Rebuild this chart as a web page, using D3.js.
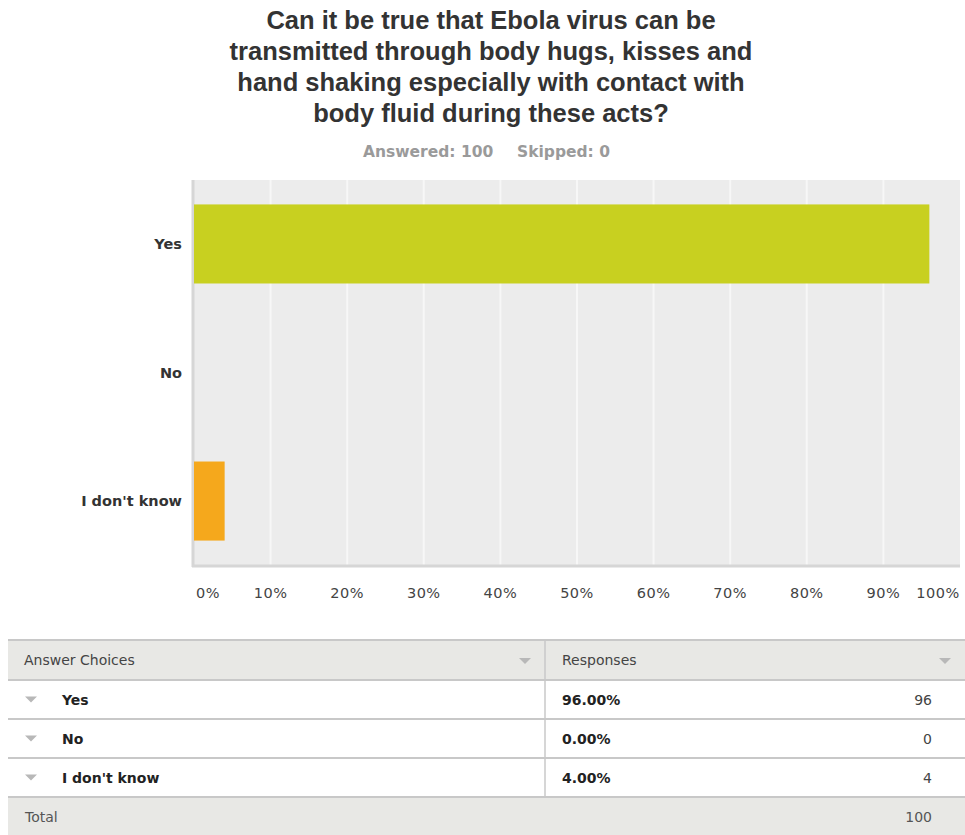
<!DOCTYPE html>
<html><head><meta charset="utf-8">
<script src="https://cdn.jsdelivr.net/npm/d3@7"></script>
<style>body{margin:0;background:#fff;}svg{display:block;font-family:"DejaVu Sans",Verdana,sans-serif;}</style>
</head><body>
<svg id="c" width="965" height="835"></svg>
<script>
const titleLines = ["Can it be true that Ebola virus can be","transmitted through body hugs, kisses and","hand shaking especially with contact with","body fluid during these acts?"];
const subtitleParts = ["Answered: 100","Skipped: 0"];
const categories = ["Yes","No","I don't know"];
const percents = [96, 0, 4];
const counts = [96, 0, 4];
const barColors = ["#c8d020","#c8d020","#f5a81c"];
const tickValues = [0,10,20,30,40,50,60,70,80,90,100];
const tickLabels = ["0%","10%","20%","30%","40%","50%","60%","70%","80%","90%","100%"];
const tableHeaders = ["Answer Choices","Responses"];
const totalLabel = "Total";
const totalCount = 100;

const svg = d3.select("#c");
// title
svg.append("g").selectAll("text").data(titleLines).join("text")
  .attr("x", 491).attr("y", (d,i)=>29+i*31).attr("text-anchor","middle")
  .style("font-family","'Liberation Sans',Arial,sans-serif")
  .attr("font-size", 25.5).attr("font-weight","bold").attr("fill","#333").text(d=>d);
svg.append("g").selectAll("text").data(subtitleParts).join("text")
  .attr("x",(d,i)=>i===0?363:517).attr("y",157)
  .attr("font-size",15.5).attr("font-weight","bold").attr("fill","#9a9a9a").text(d=>d);

// plot
const x = d3.scaleLinear().domain([0,100]).range([194,960]);
const y = d3.scaleBand().domain(categories).range([180,565]).paddingInner(0.385).paddingOuter(0.19);
const pTop=180, pBottom=565;
svg.append("rect").attr("x",192).attr("y",pTop).attr("width",960-192).attr("height",pBottom-pTop).attr("fill","#ececec");
svg.append("g").selectAll("line").data(tickValues.slice(1,-1)).join("line")
  .attr("x1",d=>x(d)).attr("x2",d=>x(d)).attr("y1",pTop).attr("y2",pBottom)
  .attr("stroke","#f7f7f7").attr("stroke-width",2);
svg.append("line").attr("x1",193).attr("x2",193).attr("y1",pTop).attr("y2",pBottom+2).attr("stroke","#d6d6d6").attr("stroke-width",3);
svg.append("line").attr("x1",192).attr("x2",960).attr("y1",pBottom+1).attr("y2",pBottom+1).attr("stroke","#d6d6d6").attr("stroke-width",3);

svg.append("g").selectAll("rect").data(categories).join("rect")
  .attr("x",x(0)).attr("y",d=>y(d)).attr("height",y.bandwidth())
  .attr("width",(d,i)=>x(percents[i])-x(0)).attr("fill",(d,i)=>barColors[i]);

svg.append("g").selectAll("text").data(categories).join("text")
  .attr("x",182).attr("y",d=>y(d)+y.bandwidth()/2+5).attr("text-anchor","end")
  .attr("font-size",14.5).attr("font-weight","bold").attr("fill","#333").text(d=>d);

svg.append("g").selectAll("text").data(tickValues).join("text")
  .attr("x",(d,i)=> i===0 ? x(d)+14 : (i===tickValues.length-1 ? x(d)-22 : x(d)))
  .attr("y",598).attr("text-anchor","middle")
  .attr("font-size",14.5).attr("letter-spacing","0.5").attr("fill","#444").text((d,i)=>tickLabels[i]);

// table
const tx0=8, tx1=965, tdiv=545;
const rowTop=[640,680,719,758,797,836];
const tg = svg.append("g");
tg.append("rect").attr("x",tx0).attr("y",rowTop[0]).attr("width",tx1-tx0).attr("height",rowTop[1]-rowTop[0]).attr("fill","#e8e8e5");
tg.append("rect").attr("x",tx0).attr("y",rowTop[4]).attr("width",tx1-tx0).attr("height",rowTop[5]-rowTop[4]).attr("fill","#e8e8e5");
tg.selectAll("line.h").data(rowTop.slice(0,5)).join("line").attr("class","h")
  .attr("x1",tx0).attr("x2",tx1).attr("y1",d=>d).attr("y2",d=>d).attr("stroke","#c8c8c8").attr("stroke-width",2);
tg.append("line").attr("x1",tdiv).attr("x2",tdiv).attr("y1",rowTop[0]).attr("y2",rowTop[4]).attr("stroke","#c8c8c8").attr("stroke-width",1.5);

function tri(x0,yc){ return `M${x0},${yc-3}L${x0+12},${yc-3}L${x0+6},${yc+3}Z`; }
// header
tg.selectAll("text.hd").data(tableHeaders).join("text").attr("class","hd")
  .attr("x",(d,i)=>i===0?24:562).attr("y",665).attr("font-size",14).attr("fill","#444").text(d=>d);
tg.append("path").attr("d",tri(519,661)).attr("fill","#b8b8b8");
tg.append("path").attr("d",tri(939,661)).attr("fill","#b8b8b8");
// rows
const rows = tg.selectAll("g.r").data(categories).join("g").attr("class","r");
rows.append("path").attr("d",(d,i)=>tri(25,(rowTop[i+1]+rowTop[i+2])/2)).attr("fill","#b8b8b8");
rows.append("text").attr("x",62).attr("y",(d,i)=>(rowTop[i+1]+rowTop[i+2])/2+5)
  .attr("font-size",14).attr("font-weight","bold").attr("fill","#222").text(d=>d);
rows.append("text").attr("x",562).attr("y",(d,i)=>(rowTop[i+1]+rowTop[i+2])/2+5)
  .attr("font-size",14).attr("font-weight","bold").attr("fill","#222").text((d,i)=>percents[i].toFixed(2)+"%");
rows.append("text").attr("x",932).attr("y",(d,i)=>(rowTop[i+1]+rowTop[i+2])/2+5).attr("text-anchor","end")
  .attr("font-size",14).attr("fill","#444").text((d,i)=>counts[i]);
tg.append("text").attr("x",25).attr("y",822).attr("font-size",14).attr("fill","#555").text(totalLabel);
tg.append("text").attr("x",932).attr("y",822).attr("text-anchor","end").attr("font-size",14).attr("fill","#555").text(totalCount);
</script>
</body></html>
